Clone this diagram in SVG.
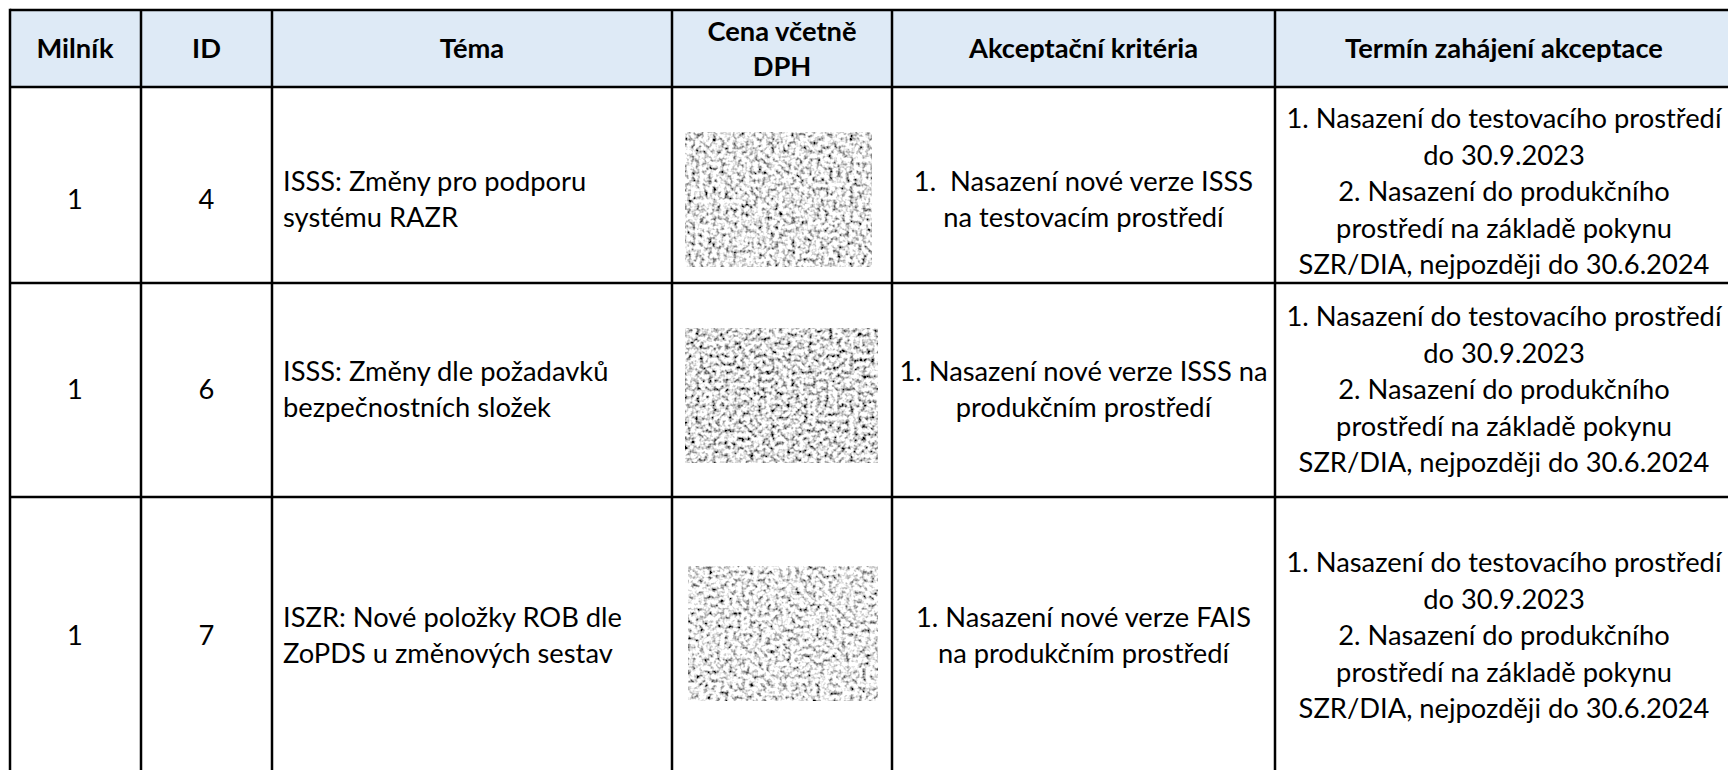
<svg xmlns="http://www.w3.org/2000/svg" width="1728" height="770" viewBox="0 0 1728 770">
<style>
.t{font-family:Lato,"Liberation Sans",sans-serif;font-size:27.3px;fill:#000}
.h{font-weight:bold}
.c{text-anchor:middle}
.pre{white-space:pre}
.ln{stroke:#000;stroke-width:2.5;fill:none}
</style>
<defs>
<filter id="nz1" x="0" y="0" width="100%" height="100%">
<feTurbulence type="fractalNoise" baseFrequency="0.24" numOctaves="2" seed="3"/>
<feColorMatrix type="matrix" values="1 0 0 0 0 1 0 0 0 0 1 0 0 0 0 0 0 0 0 1"/>
<feComponentTransfer><feFuncR type="linear" slope="2.7" intercept="-0.55"/><feFuncG type="linear" slope="2.7" intercept="-0.55"/><feFuncB type="linear" slope="2.7" intercept="-0.55"/></feComponentTransfer>
<feGaussianBlur stdDeviation="0.6"/>
</filter>
<filter id="nz2" x="0" y="0" width="100%" height="100%">
<feTurbulence type="fractalNoise" baseFrequency="0.24" numOctaves="2" seed="11"/>
<feColorMatrix type="matrix" values="1 0 0 0 0 1 0 0 0 0 1 0 0 0 0 0 0 0 0 1"/>
<feComponentTransfer><feFuncR type="linear" slope="2.7" intercept="-0.6"/><feFuncG type="linear" slope="2.7" intercept="-0.6"/><feFuncB type="linear" slope="2.7" intercept="-0.6"/></feComponentTransfer>
<feGaussianBlur stdDeviation="0.6"/>
</filter>
<filter id="nz3" x="0" y="0" width="100%" height="100%">
<feTurbulence type="fractalNoise" baseFrequency="0.24" numOctaves="2" seed="27"/>
<feColorMatrix type="matrix" values="1 0 0 0 0 1 0 0 0 0 1 0 0 0 0 0 0 0 0 1"/>
<feComponentTransfer><feFuncR type="linear" slope="2.7" intercept="-0.52"/><feFuncG type="linear" slope="2.7" intercept="-0.52"/><feFuncB type="linear" slope="2.7" intercept="-0.52"/></feComponentTransfer>
<feGaussianBlur stdDeviation="0.6"/>
</filter>
</defs>
<rect x="0" y="0" width="1728" height="770" fill="#fff"/>
<g id="header">
<rect x="10" y="10" width="1735" height="77" fill="#DEEAF6"/>
<text class="t h c" x="75" y="58">Milník</text>
<text class="t h c" x="206.5" y="58">ID</text>
<text class="t h c" x="472" y="58">Téma</text>
<text class="t h c" x="782" y="41">Cena včetně</text>
<text class="t h c" x="782" y="76">DPH</text>
<text class="t h c" x="1083.5" y="58">Akceptační kritéria</text>
<text class="t h c" x="1504" y="58">Termín zahájení akceptace</text>
</g>
<g id="row1">
<text class="t c" x="75" y="209">1</text>
<text class="t c" x="206.5" y="209">4</text>
<text class="t" x="283" y="191">ISSS: Změny pro podporu</text>
<text class="t" x="283" y="227">systému RAZR</text>
<rect x="685" y="132" width="187" height="135" fill="#fff" filter="url(#nz1)"/>
<text class="t c pre" x="1083.5" y="191">1.  Nasazení nové verze ISSS</text>
<text class="t c" x="1083.5" y="227">na testovacím prostředí</text>
<text class="t c" x="1504" y="128">1. Nasazení do testovacího prostředí</text>
<text class="t c" x="1504" y="164.5">do 30.9.2023</text>
<text class="t c" x="1504" y="201">2. Nasazení do produkčního</text>
<text class="t c" x="1504" y="237.5">prostředí na základě pokynu</text>
<text class="t c" x="1504" y="274">SZR/DIA, nejpozději do 30.6.2024</text>
</g>
<g id="row2">
<text class="t c" x="75" y="399">1</text>
<text class="t c" x="206.5" y="399">6</text>
<text class="t" x="283" y="381">ISSS: Změny dle požadavků</text>
<text class="t" x="283" y="417">bezpečnostních složek</text>
<rect x="685" y="328" width="193" height="135" fill="#fff" filter="url(#nz2)"/>
<text class="t c" x="1083.5" y="381">1. Nasazení nové verze ISSS na</text>
<text class="t c" x="1083.5" y="417">produkčním prostředí</text>
<text class="t c" x="1504" y="326">1. Nasazení do testovacího prostředí</text>
<text class="t c" x="1504" y="362.5">do 30.9.2023</text>
<text class="t c" x="1504" y="399">2. Nasazení do produkčního</text>
<text class="t c" x="1504" y="435.5">prostředí na základě pokynu</text>
<text class="t c" x="1504" y="472">SZR/DIA, nejpozději do 30.6.2024</text>
</g>
<g id="row3">
<text class="t c" x="75" y="645">1</text>
<text class="t c" x="206.5" y="645">7</text>
<text class="t" x="283" y="627">ISZR: Nové položky ROB dle</text>
<text class="t" x="283" y="663">ZoPDS u změnových sestav</text>
<rect x="688" y="566" width="190" height="135" fill="#fff" filter="url(#nz3)"/>
<text class="t c" x="1083.5" y="627">1. Nasazení nové verze FAIS</text>
<text class="t c" x="1083.5" y="663">na produkčním prostředí</text>
<text class="t c" x="1504" y="572">1. Nasazení do testovacího prostředí</text>
<text class="t c" x="1504" y="608.5">do 30.9.2023</text>
<text class="t c" x="1504" y="645">2. Nasazení do produkčního</text>
<text class="t c" x="1504" y="681.5">prostředí na základě pokynu</text>
<text class="t c" x="1504" y="718">SZR/DIA, nejpozději do 30.6.2024</text>
</g>
<g id="connectors">
<path class="ln" d="M10 10H1745M10 87H1745M10 283H1745M10 497H1745"/>
<path class="ln" d="M10 8.75V790M141 10V790M272 10V790M672 10V790M892 10V790M1275 10V790"/>
</g>
</svg>
